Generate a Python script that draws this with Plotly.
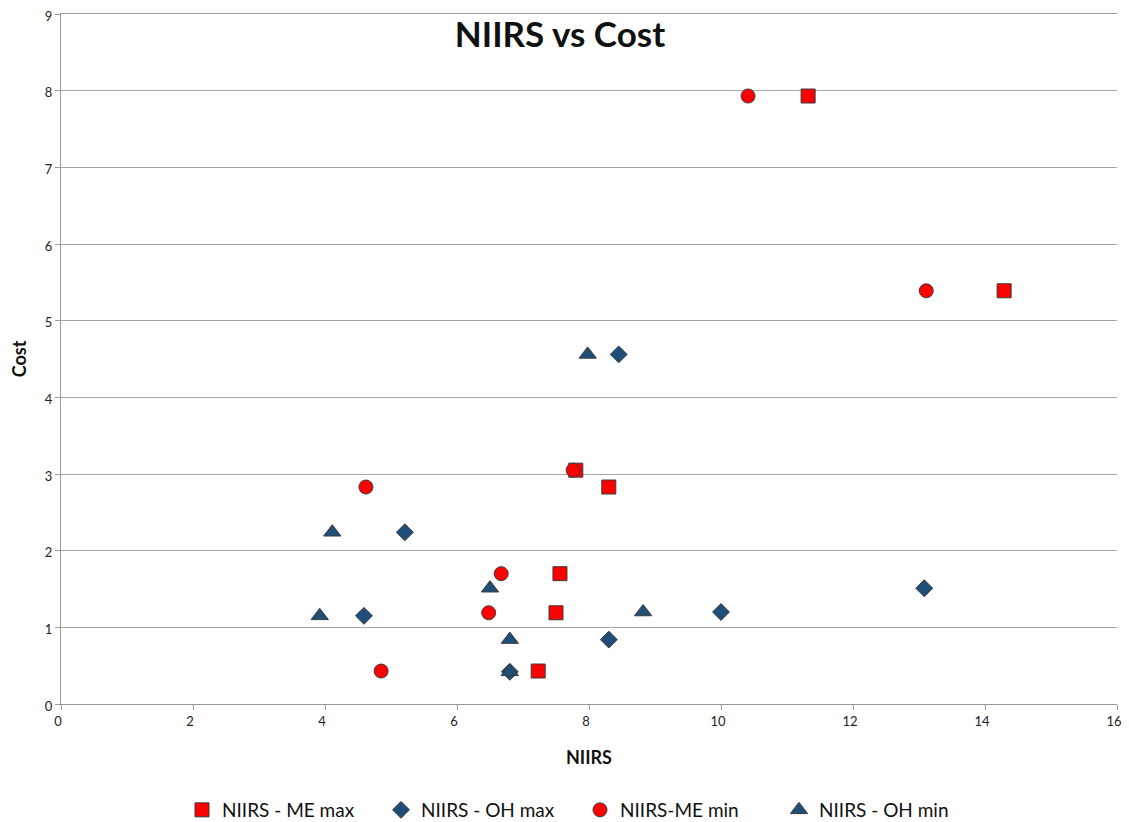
import plotly.graph_objects as go

# NIIRS vs Cost
me_max_x = [11.32, 14.29, 7.80, 8.30, 7.56, 7.50, 7.23]
me_max_y = [7.93, 5.39, 3.05, 2.83, 1.70, 1.19, 0.43]

oh_max_x = [8.45, 5.21, 13.08, 10.00, 4.59, 8.30, 6.80]
oh_max_y = [4.56, 2.24, 1.51, 1.20, 1.15, 0.84, 0.42]

me_min_x = [10.41, 13.11, 7.76, 4.62, 6.67, 6.48, 4.85]
me_min_y = [7.93, 5.39, 3.05, 2.83, 1.70, 1.19, 0.43]

oh_min_x = [7.98, 4.11, 6.50, 8.82, 3.92, 6.80, 6.80]
oh_min_y = [4.56, 2.24, 1.51, 1.20, 1.15, 0.84, 0.42]

RED = '#ff0000'
BLUE = '#1f4e79'
EDGE = '#3a3a3a'
FONT = 'Lato, Open Sans, sans-serif'

W, H = 1121, 814   # page body adds ~8px offset

fig = go.Figure()

series = [
    ('NIIRS - ME max', me_max_x, me_max_y, 'square', RED, 14),
    ('NIIRS - OH max', oh_max_x, oh_max_y, 'diamond', BLUE, 13),
    ('NIIRS-ME min', me_min_x, me_min_y, 'circle', RED, 14),
    ('NIIRS - OH min', oh_min_x, oh_min_y, 'triangle-up', BLUE, 15),
]

for name, xs, ys, sym, col, sz in series:
    fig.add_trace(go.Scatter(
        x=xs, y=ys, mode='markers', name=name,
        marker=dict(symbol=sym, color=col, size=sz,
                    line=dict(color=EDGE, width=1)),
    ))

fig.update_layout(
    width=W, height=H,
    paper_bgcolor='white', plot_bgcolor='white',
    margin=dict(l=53, r=12, t=6, b=118),
    font=dict(family=FONT, color='#222222'),
    title=dict(text='<b>NIIRS vs Cost</b>', x=552 / W, xanchor='center',
               y=1 - 27 / H, yanchor='middle', yref='container',
               automargin=False,
               font=dict(size=35, color='#111111', family=FONT)),
    showlegend=True,
    legend=dict(orientation='h', x=572 / W, xanchor='center', xref='container',
                y=1 - 802 / H, yanchor='middle', yref='container',
                font=dict(size=19, color='#111111'),
                itemwidth=30, entrywidth=154, traceorder='normal'),
    xaxis=dict(
        range=[0, 16], dtick=2, showgrid=False, zeroline=False,
        showline=True, mirror=True, linecolor='#9a9a9a', linewidth=1,
        ticks='outside', ticklen=5, tickcolor='#9a9a9a',
        tickfont=dict(size=13, color='#222222'), automargin=False,
        ticklabeloverflow='allow', ticklabelshift=-3,
        title=dict(text='<b>NIIRS</b>', font=dict(size=18, color='#111111'),
                   standoff=23),
    ),
    yaxis=dict(
        range=[0, 9], dtick=1, showgrid=True, gridcolor='#a6a6a6',
        gridwidth=1, zeroline=False,
        showline=True, linecolor='#9a9a9a', linewidth=1,
        ticks='outside', ticklen=5, tickcolor='#9a9a9a',
        tickfont=dict(size=13, color='#222222'), automargin=False,
        ticklabeloverflow='allow', ticklabelshift=2,
        title=dict(text='<b>Cost</b>', font=dict(size=18, color='#111111'),
                   standoff=18),
    ),
)

fig.write_html("out.html")
